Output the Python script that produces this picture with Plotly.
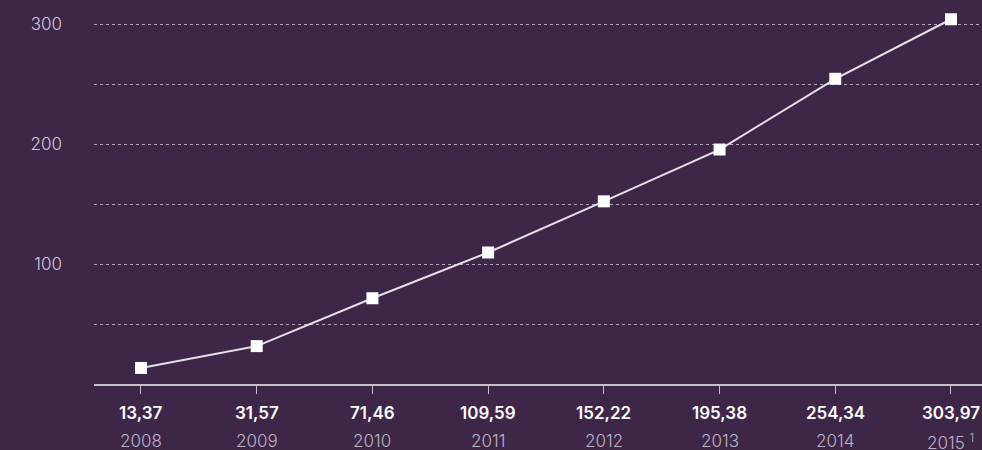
import plotly.graph_objects as go

years = ["2008", "2009", "2010", "2011", "2012", "2013", "2014", "2015"]
year_labels = ["2008", "2009", "2010", "2011", "2012", "2013", "2014", "2015 <sup>1</sup>"]
values = [13.37, 31.57, 71.46, 109.59, 152.22, 195.38, 254.34, 303.97]
value_labels = ["13,37", "31,57", "71,46", "109,59", "152,22", "195,38", "254,34", "303,97"]
y_ticks = [50, 100, 150, 200, 250, 300]
y_ticktext = [" ", "100", " ", "200", " ", "300"]

BG = "#3e2649"
FONT = "Inter, Lato, sans-serif"

fig = go.Figure()
fig.add_trace(go.Scatter(
    x=list(range(len(years))), y=values, mode="lines+markers",
    line=dict(color="#e6e1e8", width=2),
    marker=dict(symbol="square", size=12, color="#ffffff"),
    hoverinfo="skip", showlegend=False, cliponaxis=False,
))

annotations = []
for i, (vl, yl) in enumerate(zip(value_labels, year_labels)):
    annotations.append(dict(x=i, y=0, xref="x", yref="paper", text=vl, showarrow=False,
                            yshift=-29, yanchor="middle",
                            font=dict(family=FONT, size=17, color="#ffffff", weight=600)))
    annotations.append(dict(x=i, y=0, xref="x", yref="paper", text=yl, showarrow=False,
                            yshift=-57, yanchor="middle",
                            font=dict(family=FONT, size=17, color="#bdb4c1", weight=300)))

fig.update_layout(
    width=982, height=450,
    paper_bgcolor=BG, plot_bgcolor=BG,
    margin=dict(l=94, r=0, t=0, b=66),
    xaxis=dict(range=[-0.406, 7.268], showgrid=False, zeroline=False,
               showline=True, linecolor="#c9c1cd", linewidth=1.5,
               tickvals=list(range(len(years))), ticks="outside", ticklen=8,
               tickcolor="#c9c1cd", tickwidth=1.2, showticklabels=False),
    yaxis=dict(range=[0, 320], tickvals=y_ticks, ticktext=y_ticktext,
               showgrid=True, gridcolor="#b3a8b9", griddash="dot", gridwidth=1,
               zeroline=False, showline=False, ticks="",
               ticklabelstandoff=31,
               tickfont=dict(family=FONT, size=17, color="#d2cbd5", weight=300)),
    annotations=annotations,
)

fig.write_html(
    "out.html",
    config={"displayModeBar": False},
    post_script="document.body.style.margin='0';document.body.style.overflow='hidden';document.body.style.background='%s';" % BG,
)
